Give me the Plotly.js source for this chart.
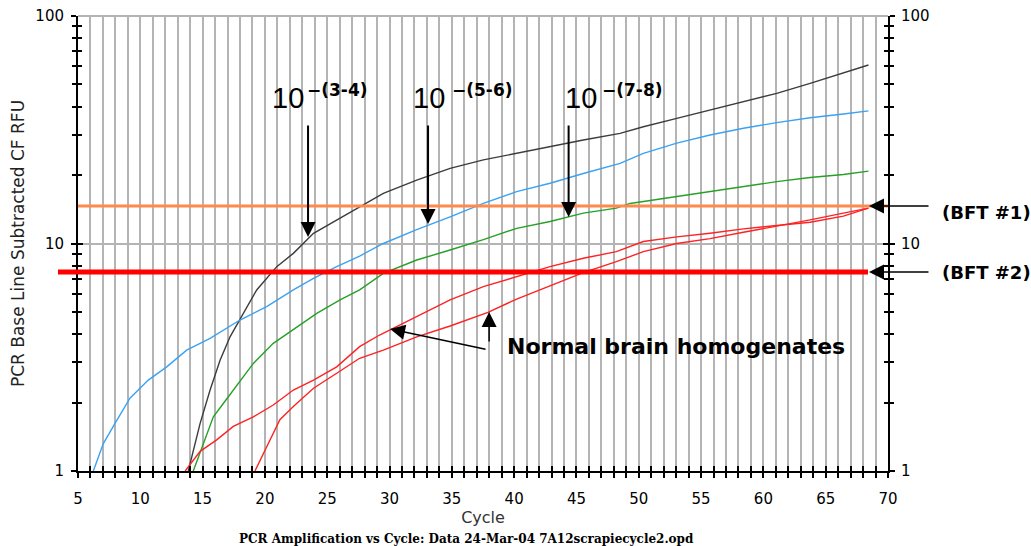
<!DOCTYPE html>
<html><head><meta charset="utf-8">
<script src="https://cdn.plot.ly/plotly-3.0.1.min.js"></script>
<style>html,body{margin:0;padding:0;background:#fff}#chart{width:1031px;height:546px}</style>
</head><body><div id="chart"></div>
<script>
// ---- data ----
const blackCycle = [13.85, 14.8, 15.6, 16.4, 17.2, 18.14, 19.34, 20.95, 22.28, 23.9, 25.76, 27.6, 29.5, 32.18, 34.86, 37.53, 40.2, 42.88, 45.55, 48.5, 50.37, 53.05, 55.72, 58.4, 61.07, 63.75, 66.42, 68.43];
const blackRFU   = [1.0, 1.62, 2.27, 3.07, 3.89, 4.77, 6.25, 7.91, 9.05, 11.09, 12.69, 14.52, 16.6, 19.0, 21.4, 23.3, 24.9, 26.8, 28.5, 30.5, 32.6, 35.5, 38.6, 42.0, 45.7, 50.6, 56.0, 60.9];

const blueCycle = [6.23, 7.03, 7.97, 9.17, 10.64, 12.12, 13.72, 15.6, 18.0, 20.14, 22.28, 23.9, 25.76, 27.6, 29.5, 32.18, 34.86, 37.53, 40.2, 42.88, 45.55, 48.5, 50.37, 53.05, 55.72, 58.4, 61.07, 63.75, 66.42, 68.43];
const blueRFU   = [1.0, 1.32, 1.62, 2.09, 2.51, 2.87, 3.40, 3.83, 4.61, 5.28, 6.25, 7.03, 7.91, 8.81, 10.0, 11.5, 13.1, 15.0, 16.9, 18.4, 20.3, 22.5, 24.9, 27.6, 30.0, 32.1, 34.0, 35.7, 37.1, 38.3];

const greenCycle = [14.25, 15.06, 15.86, 16.66, 17.46, 19.07, 20.67, 22.28, 24.16, 26.03, 27.6, 29.5, 32.18, 34.86, 37.53, 40.2, 42.88, 45.55, 48.2, 49.3, 53.05, 55.72, 58.4, 61.07, 63.75, 66.42, 68.43];
const greenRFU   = [1.0, 1.32, 1.73, 1.98, 2.27, 2.97, 3.64, 4.17, 4.93, 5.65, 6.25, 7.39, 8.46, 9.36, 10.4, 11.66, 12.5, 13.6, 14.3, 15.0, 16.1, 16.9, 17.8, 18.7, 19.5, 20.1, 20.8];

const redACycle = [13.6, 14.8, 16.13, 17.46, 19.07, 20.67, 22.28, 23.9, 25.76, 27.6, 29.2, 30.04, 32.18, 34.86, 37.53, 40.2, 42.88, 45.55, 48.2, 50.37, 53.05, 55.72, 58.4, 61.07, 63.75, 66.42, 68.43];
const redARFU   = [1.0, 1.22, 1.37, 1.57, 1.73, 1.95, 2.27, 2.51, 2.87, 3.52, 3.96, 4.17, 4.77, 5.65, 6.46, 7.15, 7.91, 8.61, 9.21, 10.2, 10.7, 11.1, 11.6, 12.0, 12.4, 13.2, 14.3];

const redBCycle = [19.2, 20.14, 21.2, 22.28, 23.9, 25.76, 27.6, 29.5, 32.18, 34.86, 37.9, 40.2, 42.88, 45.55, 48.2, 50.37, 53.05, 55.72, 58.4, 61.07, 63.75, 66.42, 68.43];
const redBRFU   = [1.0, 1.28, 1.68, 1.92, 2.31, 2.69, 3.13, 3.40, 3.89, 4.34, 4.98, 5.7, 6.5, 7.45, 8.32, 9.21, 10.0, 10.5, 11.2, 11.9, 12.7, 13.6, 14.3];

const thresholdNames  = ['(BFT #1)', '(BFT #2)'];
const thresholdValues = [14.6, 7.5];

const dilutionLabels = ['−(3-4)', '−(5-6)', '−(7-8)'];
const dilutionTipCycle = [23.46, 33.09, 44.37];
const dilutionTipRFU   = [10.68, 12.18, 13.08];

const normalLabel = 'Normal brain homogenates';
const normalTipCycle = [37.99, 30.04];
const normalTipRFU   = [5.0, 4.21];

const xTickVals   = [5, 10, 15, 20, 25, 30, 35, 40, 45, 50, 55, 60, 65, 70];
const xTickText   = ['5', '10', '15', '20', '25', '30', '35', '40', '45', '50', '55', '60', '65', '70'];
const yTickVals   = [1, 10, 100];
const yTickText   = ['1', '10', '100'];
const yMinorVals  = [2, 3, 4, 5, 6, 7, 8, 9, 20, 30, 40, 50, 60, 70, 80, 90];

const xTitle = 'Cycle';
const yTitle = 'PCR Base Line Subtracted CF RFU';
const caption = 'PCR Amplification vs Cycle: Data 24-Mar-04 7A12scrapiecycle2.opd';

// ---- drawing ----
const L = 78, R = 888, T = 16, B = 471;
const W = R - L, H = B - T;
const px2paperX = p => (p - L) / W;
const px2paperY = p => (B - p) / H;

function curve(x, y, color) {
  return {x: x, y: y, type: 'scatter', mode: 'lines', line: {color: color, width: 1.4},
          hoverinfo: 'skip', showlegend: false};
}
function axisHolder(xa, ya) {
  return {x: [], y: [], type: 'scatter', mode: 'lines', xaxis: xa, yaxis: ya, hoverinfo: 'skip', showlegend: false};
}
const traces = [
  axisHolder('x2', 'y'), axisHolder('x', 'y2'), axisHolder('x', 'y3'), axisHolder('x', 'y4'),
  curve(blackCycle, blackRFU, '#3c3c3c'),
  curve(blueCycle, blueRFU, '#3aa2f4'),
  curve(greenCycle, greenRFU, '#26a026'),
  curve(redACycle, redARFU, '#ff2222'),
  curve(redBCycle, redBRFU, '#ff2222')
];

const gridGray = '#b4b4b4';
const tickFont = {family: 'DejaVu Sans', size: 15, color: '#000'};

const shapes = [
  {type: 'line', xref: 'paper', yref: 'paper', x0: 0, x1: 1, y0: 1, y1: 1, line: {color: gridGray, width: 2}, layer: 'below'},
  {type: 'line', xref: 'paper', yref: 'y', x0: 0, x1: 1, y0: thresholdValues[0], y1: thresholdValues[0],
   line: {color: '#ff8a4c', width: 3}, layer: 'above'},
  {type: 'line', xref: 'paper', yref: 'y', x0: px2paperX(58), x1: px2paperX(868), y0: thresholdValues[1], y1: thresholdValues[1],
   line: {color: '#ff0000', width: 5}, layer: 'above'}
];

const annotations = [];
const tenX = [288, 429, 581];
const supX = [305, 450, 600];
const tailDy = [-120, -107, -100];
for (let i = 0; i < 3; i++) {
  annotations.push({xref: 'paper', yref: 'paper', x: px2paperX(tenX[i]), y: px2paperY(98), text: '10',
    showarrow: false, xanchor: 'center', yanchor: 'middle', font: {family: 'Liberation Sans', size: 29, color: '#000'}});
  annotations.push({xref: 'paper', yref: 'paper', x: px2paperX(supX[i]), y: px2paperY(90), text: dilutionLabels[i],
    showarrow: false, xanchor: 'left', yanchor: 'middle', font: {family: 'DejaVu Sans', size: 17, color: '#000', weight: 'bold'}});
  annotations.push({xref: 'x', yref: 'y', x: dilutionTipCycle[i], y: Math.log10(dilutionTipRFU[i]), text: ' ',
    showarrow: true, arrowhead: 2, arrowwidth: 2, arrowsize: 1.5, arrowcolor: '#000', ax: 0, ay: tailDy[i], standoff: 0});
}
// Normal brain homogenates
annotations.push({xref: 'paper', yref: 'paper', x: px2paperX(505), y: px2paperY(346), text: '<b>' + normalLabel + '</b>',
  showarrow: false, xanchor: 'left', yanchor: 'middle', font: {family: 'DejaVu Sans', size: 22, color: '#000'}});
const nTail = [489, 350];
const nTip = [[489, 312], [390, 329]];
for (let i = 0; i < 2; i++) {
  annotations.push({xref: 'x', yref: 'y', x: normalTipCycle[i], y: Math.log10(normalTipRFU[i]), text: ' ',
    showarrow: true, arrowhead: 2, arrowwidth: 1.5, arrowsize: 2, arrowcolor: '#000',
    ax: nTail[0] - nTip[i][0], ay: nTail[1] - nTip[i][1], standoff: 0});
}
// BFT labels
const bftTextY = [212, 272];
for (let i = 0; i < 2; i++) {
  annotations.push({xref: 'paper', yref: 'paper', x: px2paperX(940), y: px2paperY(bftTextY[i]), text: '<b>' + thresholdNames[i] + '</b>',
    showarrow: false, xanchor: 'left', yanchor: 'middle', font: {family: 'DejaVu Sans', size: 18, color: '#000'}});
  annotations.push({xref: 'paper', yref: 'y', x: px2paperX(869), y: Math.log10(thresholdValues[i]), text: ' ',
    showarrow: true, arrowhead: 2, arrowwidth: 1.5, arrowsize: 2, arrowcolor: '#000', ax: 63, ay: 0, standoff: 0});
}
// caption
annotations.push({xref: 'paper', yref: 'paper', x: px2paperX(466), y: px2paperY(539), text: '<b>' + caption + '</b>',
  showarrow: false, xanchor: 'center', yanchor: 'middle', font: {family: 'DejaVu Serif', size: 12, color: '#000'}});

const yBase = {type: 'log', range: [0, 2], tickmode: 'array', tickvals: yTickVals, ticktext: yTickText,
  tickcolor: '#000', tickwidth: 2, ticklen: 5, zeroline: false, fixedrange: true, tickfont: tickFont};
const yMinor = (side) => ({tickmode: 'array', tickvals: yMinorVals, ticks: side, ticklen: 4, tickwidth: 2, tickcolor: '#000', showgrid: false});

const layout = {
  width: 1031, height: 546,
  margin: {l: L, r: 1031 - R, t: T, b: 546 - B, pad: 0},
  paper_bgcolor: '#fff', plot_bgcolor: '#fff', showlegend: false,
  font: {family: 'DejaVu Sans', color: '#000'},
  xaxis: {range: [5, 70], tickmode: 'array', tickvals: xTickVals, ticktext: xTickText,
    ticks: 'outside', ticklen: 5, tickwidth: 2, tickcolor: '#000', ticklabelstandoff: 8,
    showline: true, linecolor: '#000', linewidth: 2, showgrid: true, gridcolor: gridGray, gridwidth: 2,
    zeroline: false, fixedrange: true, tickfont: tickFont,
    minor: {dtick: 1, tick0: 5, ticks: 'outside', ticklen: 5, tickwidth: 2, tickcolor: '#000', showgrid: true, gridcolor: gridGray, gridwidth: 2},
    title: {text: xTitle, font: {family: 'DejaVu Sans', size: 16, color: '#333'}, standoff: 3}},
  xaxis2: {overlaying: 'x', anchor: 'y', side: 'bottom', range: [5, 70], tickmode: 'array', tickvals: xTickVals,
    ticks: 'inside', ticklen: 5, tickwidth: 2, tickcolor: '#000', showticklabels: false, showgrid: false, showline: false,
    zeroline: false, fixedrange: true,
    minor: {dtick: 1, tick0: 5, ticks: 'inside', ticklen: 5, tickwidth: 2, tickcolor: '#000', showgrid: false}},
  yaxis: Object.assign({}, yBase, {side: 'left', ticks: 'outside', ticklabelstandoff: 4,
    showline: true, linecolor: '#000', linewidth: 2, showgrid: true, gridcolor: gridGray, gridwidth: 2,
    minor: yMinor('outside'),
    title: {text: yTitle, font: {family: 'DejaVu Sans', size: 17, color: '#222'}, standoff: 6}}),
  yaxis2: Object.assign({}, yBase, {overlaying: 'y', anchor: 'x', side: 'left', ticks: 'inside', showticklabels: false,
    showgrid: false, showline: false, minor: yMinor('inside')}),
  yaxis3: Object.assign({}, yBase, {overlaying: 'y', anchor: 'x', side: 'right', ticks: 'outside', ticklabelstandoff: 3,
    showgrid: false, showline: true, linecolor: '#000', linewidth: 2, minor: yMinor('outside')}),
  yaxis4: Object.assign({}, yBase, {overlaying: 'y', anchor: 'x', side: 'right', ticks: 'inside', showticklabels: false,
    showgrid: false, showline: false, minor: yMinor('inside')}),
  shapes: shapes,
  annotations: annotations
};

Plotly.newPlot('chart', traces, layout, {staticPlot: true, displayModeBar: false});
</script>
</body></html>
